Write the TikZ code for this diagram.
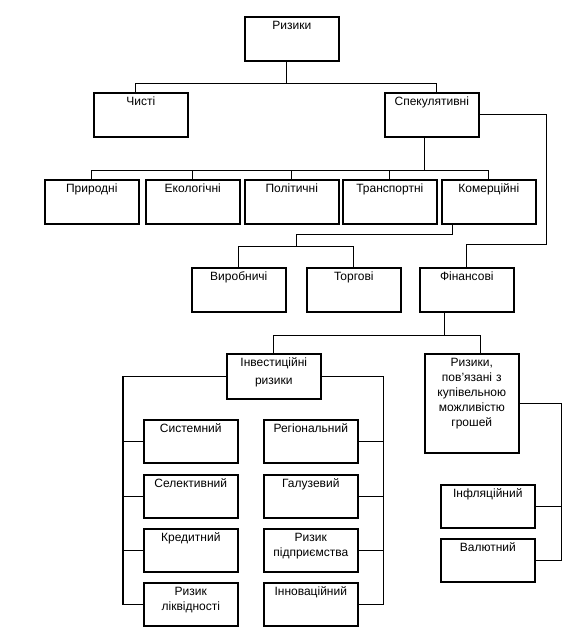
\documentclass[tikz,border=0pt]{standalone}
\usepackage{fontspec}
\setmainfont{Liberation Sans}

\begin{document}
\begin{tikzpicture}[x = 1pt, y = -1pt,
	box/.style = {draw, line width = 1.6pt, anchor = north west,
		minimum width = 94pt, text width = 86pt, align = center,
		inner sep = 3pt, text height = 10pt, text depth = #1,
		font = \fontsize{12}{15}\selectfont},
	box/.default = 28pt,
	link/.style = {line width = 1.2pt}]

	% Page frame
	
	\useasboundingbox (0, 0) rectangle (587, 631);
	
	% Top levels
	
	\node [box] (riz) at (244, 16) {Ризики};
	\node [box] (chysti) at (93, 92) {Чисті};
	\node [box] (spek) at (384, 92) {Спекулятивні};
	
	% Kinds of speculative risks
	
	\node [box] (pryr) at (44, 179) {Природні};
	\node [box] (ekol) at (145, 179) {Екологічні};
	\node [box] (polit) at (244, 179) {Політичні};
	\node [box] (trans) at (342, 179) {Транспортні};
	\node [box] (komer) at (441, 179) {Комерційні};
	
	\node [box] (vyrob) at (191, 267) {Виробничі};
	\node [box] (torg) at (306, 267) {Торгові};
	\node [box] (fin) at (419, 267) {Фінансові};
	
	% Financial risks
	
	\node [box = 29pt] (invest) at (226, 353) {Інвестиційні\\[3pt]ризики};
	\node [box = 83pt] (kupiv) at (424, 353)
		{Ризики,\\пов'язані з\\купівельною\\можливістю\\грошей};
	
	\node [box = 27pt] (syst) at (143, 419) {Системний};
	\node [box = 27pt] (selekt) at (143, 474) {Селективний};
	\node [box = 27pt] (kred) at (143, 528) {Кредитний};
	\node [box = 27pt] (likv) at (143, 582) {Ризик\\ліквідності};
	
	\node [box = 27pt] (region) at (263, 419) {Регіональний};
	\node [box = 27pt] (haluz) at (263, 474) {Галузевий};
	\node [box = 27pt] (pidpr) at (263, 528) {Ризик\\підприємства};
	\node [box = 27pt] (innov) at (263, 582) {Інноваційний};
	
	\node [box = 27pt] (infl) at (440, 484) {Інфляційний};
	\node [box = 27pt] (valut) at (440, 538) {Валютний};
	
	% Connectors
	
	\begin{scope}[link]
	
		\draw ([xshift = -5pt] riz.south) -- ++(0, 22) coordinate (j1);
		\draw ([xshift = -5pt] chysti.north) |- (j1) -| ([xshift = 5pt] spek.north);
		
		\draw (spek.east) -- ++(67, 0) -- ++(0, 130) -| (fin.north);
		
		\draw ([xshift = -7pt] spek.south) -- ++(0, 33) coordinate (j2);
		\foreach \n in {pryr, ekol, polit, trans, komer}
			\draw (\n.north) |- (j2);
		
		\draw ([xshift = -36pt] komer.south) -- ++(0, 10) -| ++(-156, 12) coordinate (j3);
		\draw (vyrob.north) |- (j3) -| (torg.north);
		
		\draw ([xshift = -22pt] fin.south) -- ++(0, 23) coordinate (j4);
		\draw (invest.north) |- (j4) -| ([xshift = 9pt] kupiv.north);
		
		\draw (invest.west) -| ([xshift = -20pt] likv.west) -- (likv.west);
		\foreach \n in {syst, selekt, kred}
			\draw (\n.west) -- ++(-20, 0);
		
		\draw (invest.east) -| ([xshift = 25pt] innov.east) -- (innov.east);
		\foreach \n in {region, haluz, pidpr}
			\draw (\n.east) -- ++(25, 0);
		
		\draw (kupiv.east) -| ([xshift = 26pt] valut.east) -- (valut.east);
		\draw (infl.east) -- ++(26, 0);
		
	\end{scope}

\end{tikzpicture}
\end{document}
